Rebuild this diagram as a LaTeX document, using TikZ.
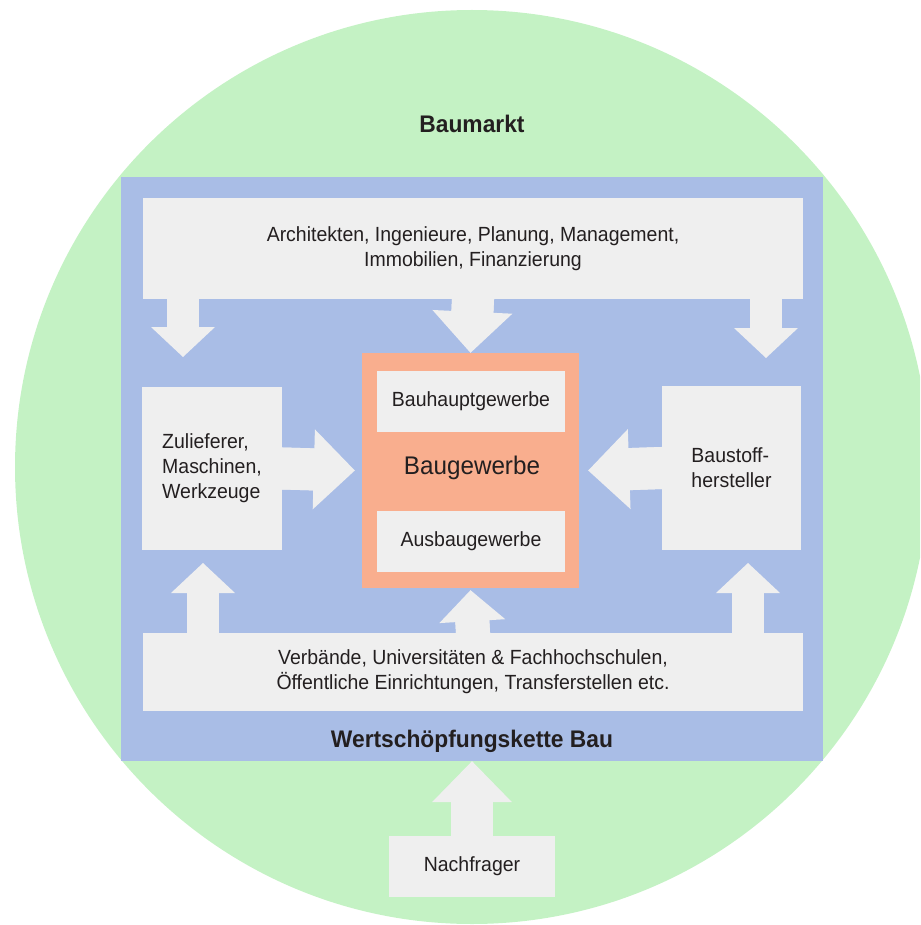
\documentclass[tikz,border=0pt]{standalone}
\usepackage{fontspec}
\setmainfont{Liberation Sans}[FakeStretch=0.95]
\usetikzlibrary{arrows.meta}
\definecolor{marktgreen}{HTML}{C4F2C4}
\definecolor{ketteblue}{HTML}{A9BDE6}
\definecolor{boxgray}{HTML}{EFEFEF}
\definecolor{gewerbeorange}{HTML}{F9AE8E}
\definecolor{textdark}{HTML}{231F20}

\begin{document}
\begin{tikzpicture}[x=1pt,y=-1pt,font=\fontsize{20.5}{25}\selectfont,text=textdark,
  box/.style={fill=boxgray,inner sep=0pt,align=center},
  % block arrows: the shaft is drawn once more under the tip so no seam shows
  sarr/.style={draw=boxgray,line width=32pt,shorten <=-2pt,
    -{Triangle[length=30pt 0 0,width=64pt 0 0,line width=0pt]},
    preaction={draw=boxgray,line width=32pt,-,shorten >=24pt}},
  marr/.style={draw=boxgray,line width=34pt,shorten <=-2pt,
    -{Triangle[length=31pt 0 0,width=66pt 0 0,line width=0pt]},
    preaction={draw=boxgray,line width=34pt,-,shorten >=25pt}},
  barr/.style={draw=boxgray,line width=42pt,shorten <=-2pt,
    -{Triangle[length=41pt 0 0,width=80pt 0 0,line width=0pt]},
    preaction={draw=boxgray,line width=42pt,-,shorten >=33pt}}]
\useasboundingbox (0,0) rectangle (920,925);
\clip (0,0) rectangle (920,925);
% market circle and value chain frame
\fill[marktgreen] (472,467) circle[radius=457pt];
\node[fill=ketteblue,minimum width=702pt,minimum height=584pt,inner sep=0pt] (kette) at (472,469) {};
\node[font=\fontsize{24}{28}\selectfont\bfseries] (markt) at (472,124) {Baumarkt};
\node[font=\fontsize{24}{28}\selectfont\bfseries] (wsk) at (472,741) {Wertschöpfungskette Bau};
% boxes
\node[box,minimum width=660pt,minimum height=101pt] (plan) at (473,248.5) {Architekten, Ingenieure, Planung, Management,\\Immobilien, Finanzierung};
\node[box,minimum width=140pt,minimum height=163pt,align=left] (zul) at (212,468.5) {Zulieferer,\\Maschinen,\\Werkzeuge};
\node[box,minimum width=139pt,minimum height=164pt,align=left] (stoff) at (731.5,468) {Baustoff-\\hersteller};
\node[box,minimum width=660pt,minimum height=78pt] (verb) at (473,672) {Verbände, Universitäten \& Fachhochschulen,\\Öffentliche Einrichtungen, Transferstellen etc.};
\node[box,minimum width=166pt,minimum height=61pt] (nach) at (472,866.5) {Nachfrager};
% building trade in the middle
\node[fill=gewerbeorange,minimum width=217pt,minimum height=235pt,inner sep=0pt] (gewerbe) at (470.5,470.5) {};
\node[font=\fontsize{25.5}{30}\selectfont] (bau) at (472,468) {Baugewerbe};
\node[box,minimum width=188pt,minimum height=61pt] (haupt) at (471,401.5) {Bauhauptgewerbe};
\node[box,minimum width=188pt,minimum height=61pt] (ausbau) at (471,541.5) {Ausbaugewerbe};
% arrow tips at the corners
\coordinate (tl) at (183,357);
\coordinate (tr) at (766,358);
\coordinate (bl) at (203,563);
\coordinate (br) at (748,563);
\draw[sarr] (plan.south -| tl) -- (tl);
\draw[sarr] (plan.south -| tr) -- (tr);
\draw[sarr] (verb.north -| bl) -- (bl);
\draw[sarr] (verb.north -| br) -- (br);
\draw[barr] (plan.south) -- (gewerbe.north);
\draw[barr] (zul.east) -- ([xshift=-7pt]gewerbe.west);
\draw[barr] (stoff.west) -- ([xshift=9pt]gewerbe.east);
\draw[marr] (verb.north) -- ([yshift=-2pt]gewerbe.south);
\draw[barr] (nach.north) -- (kette.south);
\end{tikzpicture}
\end{document}
